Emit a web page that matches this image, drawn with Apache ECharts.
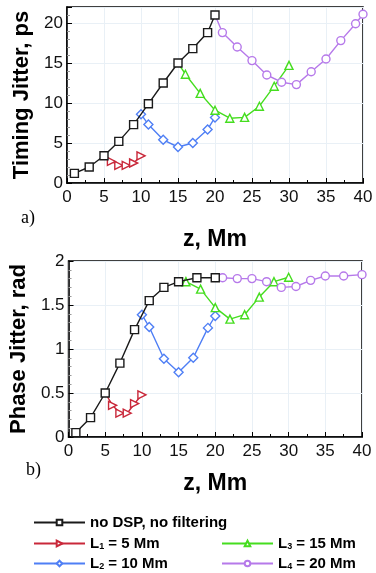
<!DOCTYPE html>
<html>
<head>
<meta charset="utf-8">
<script src="https://cdn.jsdelivr.net/npm/echarts@6/dist/echarts.min.js"></script>
<style>
  html, body { margin: 0; padding: 0; background: #fff; }
  #chart { width: 376px; height: 573px; }
</style>
</head>
<body>
<div id="chart"></div>
<script>
// a) timing jitter, ps
const timingNoDspZ = [1, 3, 5, 7, 9, 11, 13, 15, 17, 19, 20];
const timingNoDsp = [1.2, 2.0, 3.4, 5.2, 7.3, 9.9, 12.5, 15.0, 16.8, 18.8, 21.0];
const timingL1Z = [5, 6, 7, 8, 9, 10];
const timingL1 = [3.4, 2.7, 2.2, 2.2, 2.5, 3.4];
const timingL2Z = [10, 11, 13, 15, 17, 19, 20];
const timingL2 = [8.6, 7.3, 5.4, 4.5, 5.0, 6.7, 8.2];
const timingL3Z = [15, 16, 18, 20, 22, 24, 26, 28, 30];
const timingL3 = [15.0, 13.6, 11.2, 9.1, 8.1, 8.2, 9.6, 12.1, 14.7];
const timingL4Z = [20, 21, 23, 25, 27, 29, 31, 33, 35, 37, 39, 40];
const timingL4 = [21.0, 18.8, 17.0, 15.3, 13.5, 12.6, 12.3, 13.9, 15.5, 17.8, 19.9, 21.1];

// b) phase jitter, rad
const phaseNoDspZ = [1, 3, 5, 7, 9, 11, 13, 15, 17.5, 20];
const phaseNoDsp = [0.05, 0.22, 0.50, 0.84, 1.22, 1.55, 1.70, 1.765, 1.81, 1.81];
const phaseL1Z = [5, 6, 7, 8, 9, 10];
const phaseL1 = [0.50, 0.36, 0.27, 0.27, 0.38, 0.48];
const phaseL2Z = [10, 11, 13, 15, 17, 19, 20];
const phaseL2 = [1.39, 1.25, 0.89, 0.735, 0.90, 1.24, 1.375];
const phaseL3Z = [15, 16, 18, 20, 22, 24, 26, 28, 30];
const phaseL3 = [1.765, 1.765, 1.68, 1.47, 1.34, 1.39, 1.59, 1.765, 1.815];
const phaseL4Z = [20, 21, 23, 25, 27, 29, 31, 33, 35, 37.5, 40];
const phaseL4 = [1.81, 1.81, 1.80, 1.80, 1.765, 1.70, 1.71, 1.78, 1.83, 1.83, 1.845];

const xTicks = { min: 0, max: 40, interval: 5 };
const names = ["no DSP, no filtering", "L1 = 5 Mm", "L2 = 10 Mm", "L3 = 15 Mm", "L4 = 20 Mm"];

const font = "'Liberation Sans', Arial, sans-serif";
const colors = ["#1a1a1a", "#c9283a", "#4f7ff5", "#45dd1f", "#b679ea"];
const symbols = ["rect", "triangle", "diamond", "triangle", "circle"];
const symSizes = [8, 8, 9, 8, 8];
const symRotate = [0, -90, 0, 0, 0];

// first point of a filtered curve starts on the black one, no marker there
function pairs(zs, vs, hideFirst) {
  return zs.map((z, i) => (hideFirst && i === 0) ? { value: [z, vs[i]], symbol: "none" } : [z, vs[i]]);
}

function mk(k, zs, vs, gi, hideFirst) {
  return {
    name: names[k],
    type: "line",
    xAxisIndex: gi,
    yAxisIndex: gi,
    data: pairs(zs, vs, hideFirst),
    symbol: symbols[k],
    symbolSize: symSizes[k],
    symbolRotate: symRotate[k],
    showAllSymbol: true,
    z: k === 0 ? 4 : 3,
    lineStyle: { color: colors[k], width: 1.4 },
    itemStyle: { color: "#fff", borderColor: colors[k], borderWidth: 1.4 },
    emphasis: { disabled: true },
    animation: false
  };
}

function xAxis(gi) {
  return {
    type: "value", gridIndex: gi, ...xTicks,
    name: "z, Mm", nameLocation: "middle", nameGap: gi === 0 ? 45 : 35,
    nameTextStyle: { fontSize: 23, fontWeight: "bold", color: "#000", fontFamily: font },
    axisLine: { lineStyle: { color: "#000", width: 1.5 } },
    axisTick: { inside: true, length: 5, lineStyle: { color: "#000" } },
    minorTick: { show: true, splitNumber: 2, length: 3, lineStyle: { color: "#000" } },
    axisLabel: { fontSize: 17, color: "#111", fontFamily: font, margin: 6 },
    splitLine: { show: true, lineStyle: { color: "#e9f0f6", width: 1 } }
  };
}

function yAxis(gi, name, max, interval) {
  return {
    type: "value", gridIndex: gi, min: 0, max: max, interval: interval,
    name: name, nameLocation: "middle", nameGap: 24, nameRotate: 90,
    nameTextStyle: { fontSize: 22, fontWeight: "bold", color: "#000", fontFamily: font },
    axisLine: { show: true, lineStyle: { color: "#000", width: 1.5 } },
    axisTick: { inside: true, length: 5, lineStyle: { color: "#000" } },
    minorTick: { show: true, splitNumber: 5, length: 3, lineStyle: { color: "#999" } },
    axisLabel: { fontSize: 17, color: "#111", fontFamily: font, margin: 4 },
    splitLine: { show: true, lineStyle: { color: "#e9f0f6", width: 1 } }
  };
}

const legendText = {
  fontSize: 15, fontWeight: "bold", color: "#000", fontFamily: font,
  rich: { s: { fontSize: 9, fontWeight: "bold", fontFamily: font, padding: [7, 0, 0, 0] } }
};
const legendFmt = n => n.replace(/^L(\d)/, "L{s|$1}");
function legendItem(k, left, top) {
  return { data: [names[k]], left: left, top: top, itemWidth: 51, itemHeight: 7, textStyle: legendText, formatter: legendFmt, selectedMode: false };
}

const chart = echarts.init(document.getElementById("chart"), null, { renderer: "canvas" });
chart.setOption({
  backgroundColor: "#fff",
  animation: false,
  grid: [
    { left: 67, right: 13, top: 7, height: 176, show: true, borderColor: "#000", borderWidth: 1.5, backgroundColor: "#fff" },
    { left: 64, right: 14, top: 261, height: 176, show: true, borderColor: "#000", borderWidth: 1.5, backgroundColor: "#fff" }
  ],
  xAxis: [xAxis(0), xAxis(1)],
  yAxis: [yAxis(0, "Timing Jitter, ps", 22, 5), yAxis(1, "Phase Jitter, rad", 2, 0.5)],
  legend: [
    legendItem(0, 28, 510),
    legendItem(1, 28, 531),
    legendItem(2, 28, 551),
    legendItem(3, 216, 531),
    legendItem(4, 216, 551)
  ],
  graphic: [
    { type: "text", left: 21, top: 209, style: { text: "a)", font: "18px 'Liberation Serif', serif", fill: "#000" } },
    { type: "text", left: 26, top: 461, style: { text: "b)", font: "18px 'Liberation Serif', serif", fill: "#000" } }
  ],
  series: [
    mk(1, timingL1Z, timingL1, 0, true),
    mk(2, timingL2Z, timingL2, 0, false),
    mk(3, timingL3Z, timingL3, 0, true),
    mk(4, timingL4Z, timingL4, 0, true),
    mk(0, timingNoDspZ, timingNoDsp, 0, false),
    mk(1, phaseL1Z, phaseL1, 1, true),
    mk(2, phaseL2Z, phaseL2, 1, false),
    mk(3, phaseL3Z, phaseL3, 1, true),
    mk(4, phaseL4Z, phaseL4, 1, true),
    mk(0, phaseNoDspZ, phaseNoDsp, 1, false)
  ]
});
</script>
</body>
</html>
